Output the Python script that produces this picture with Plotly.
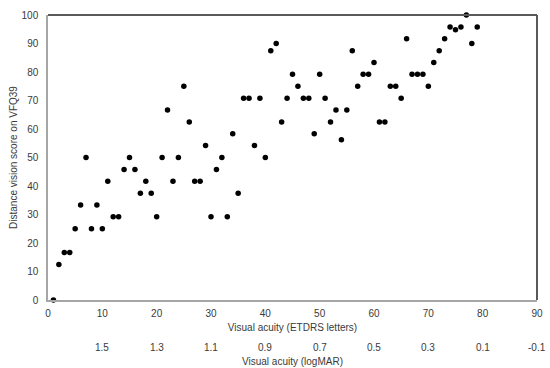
import plotly.graph_objects as go

etdrs_letters = list(range(1, 80))
vfq39_score = [
    0, 12.5, 16.67, 16.67, 25, 33.33, 50, 25, 33.33, 25,
    41.67, 29.17, 29.17, 45.83, 50, 45.83, 37.5, 41.67, 37.5, 29.17,
    50, 66.67, 41.67, 50, 75, 62.5, 41.67, 41.67, 54.17, 29.17,
    45.83, 50, 29.17, 58.33, 37.5, 70.83, 70.83, 54.17, 70.83, 50,
    87.5, 90, 62.5, 70.83, 79.17, 75, 70.83, 70.83, 58.33, 79.17,
    70.83, 62.5, 66.67, 56.25, 66.67, 87.5, 75, 79.17, 79.17, 83.33,
    62.5, 62.5, 75, 75, 70.83, 91.67, 79.17, 79.17, 79.17, 75,
    83.33, 87.5, 91.67, 95.83, 94.8, 95.83, 100, 90, 95.83,
]
x_ticks = [0, 10, 20, 30, 40, 50, 60, 70, 80, 90]
y_ticks = [0, 10, 20, 30, 40, 50, 60, 70, 80, 90, 100]
logmar_positions = [10, 20, 30, 40, 50, 60, 70, 80, 90]
logmar_labels = ["1.5", "1.3", "1.1", "0.9", "0.7", "0.5", "0.3", "0.1", "-0.1"]

FONT = "Liberation Sans, Arial, sans-serif"
TXT = "#3a3a3a"

fig = go.Figure()
fig.add_trace(go.Scatter(
    x=etdrs_letters, y=vfq39_score, mode="markers",
    marker=dict(color="black", size=5.5, line=dict(width=0)),
    showlegend=False, hoverinfo="skip", cliponaxis=False,
))

fig.update_layout(
    width=550, height=368,
    margin=dict(l=48, r=13, t=15, b=68, autoexpand=False),
    paper_bgcolor="white", plot_bgcolor="white",
    font=dict(family=FONT, size=10, color=TXT),
    xaxis=dict(
        range=[0, 90], tickvals=x_ticks, showgrid=False, zeroline=False,
        showline=True, linecolor="#a6a6a6", linewidth=1.5, ticks="",
        tickfont=dict(size=10, color=TXT), automargin=False,
        ticklabelstandoff=3,
        title=dict(text="Visual acuity (ETDRS letters)", standoff=6,
                   font=dict(size=10, color=TXT)),
    ),
    yaxis=dict(
        range=[0, 100], tickvals=y_ticks, showgrid=False, zeroline=False,
        showline=True, linecolor="#a6a6a6", linewidth=1.5, ticks="",
        tickfont=dict(size=10, color=TXT), automargin=False,
        ticklabelstandoff=6,
        title=dict(text="Distance vision score on VFQ39", standoff=2,
                   font=dict(size=10, color=TXT)),
    ),
)

# darker top and right frame lines
fig.add_shape(type="line", xref="paper", yref="paper", x0=0, x1=1, y0=1, y1=1,
              line=dict(color="#595959", width=2))
fig.add_shape(type="line", xref="paper", yref="paper", x0=1, x1=1, y0=0, y1=1,
              line=dict(color="#595959", width=2))

for pos, lab in zip(logmar_positions, logmar_labels):
    fig.add_annotation(x=pos, y=0, xref="x", yref="paper", text=lab,
                       showarrow=False, yshift=-47, yanchor="middle",
                       font=dict(family=FONT, size=10, color=TXT))
fig.add_annotation(x=0.5, y=0, xref="paper", yref="paper",
                   text="Visual acuity (logMAR)", showarrow=False,
                   yshift=-61, yanchor="middle",
                   font=dict(family=FONT, size=10, color=TXT))

fig.write_html("out.html", config={"displayModeBar": False},
               post_script="document.body.style.margin='0';")
